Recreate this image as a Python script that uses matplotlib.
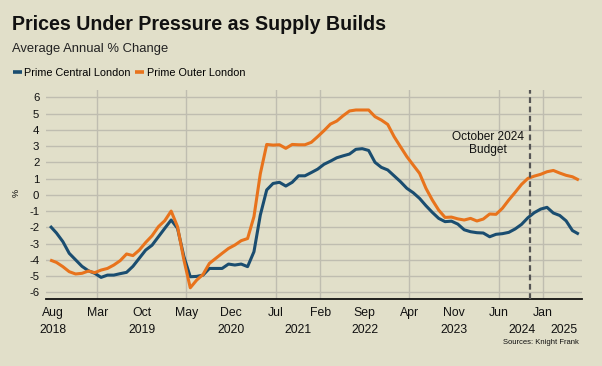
import numpy as np
import pandas as pd
import matplotlib
matplotlib.use("Agg")
import matplotlib.pyplot as plt
from matplotlib.transforms import blended_transform_factory

plt.rcParams['font.family'] = ['Liberation Sans', 'DejaVu Sans']

# data: average annual % change, monthly from Aug 2018
start_month = '2018-08'
pcl = [-1.92, -2.35, -2.88, -3.6, -4.0, -4.4, -4.67, -4.83, -5.08, -4.94,
       -4.94, -4.85, -4.77, -4.4, -3.9, -3.4, -3.1, -2.58, -2.06, -1.55,
       -2.06, -3.8, -5.04, -5.02, -4.94, -4.53, -4.53, -4.53, -4.26, -4.32,
       -4.26, -4.42, -3.5, -1.24, 0.3, 0.7, 0.77, 0.54, 0.77, 1.17,
       1.17, 1.37, 1.58, 1.88, 2.07, 2.28, 2.4, 2.51, 2.8, 2.84,
       2.73, 2.0, 1.69, 1.53, 1.17, 0.81, 0.4, 0.13, -0.22, -0.67,
       -1.08, -1.45, -1.65, -1.62, -1.8, -2.15, -2.27, -2.33, -2.35, -2.58,
       -2.43, -2.39, -2.31, -2.1, -1.82, -1.41, -1.1, -0.88, -0.77, -1.12,
       -1.27, -1.6, -2.2, -2.42]
pol = [-4.01, -4.16, -4.42, -4.73, -4.87, -4.83, -4.69, -4.79, -4.63, -4.53,
       -4.32, -4.05, -3.64, -3.74, -3.4, -2.93, -2.52, -1.96, -1.59, -1.0,
       -1.96, -4.0, -5.72, -5.25, -4.9, -4.22, -3.91, -3.6, -3.3, -3.09,
       -2.82, -2.69, -1.34, 1.3, 3.1, 3.06, 3.08, 2.86, 3.1, 3.08,
       3.08, 3.23, 3.58, 3.95, 4.35, 4.54, 4.87, 5.16, 5.22, 5.22,
       5.22, 4.81, 4.6, 4.33, 3.58, 2.96, 2.35, 1.83, 1.32, 0.4,
       -0.32, -0.94, -1.39, -1.37, -1.48, -1.55, -1.45, -1.61, -1.49, -1.18,
       -1.2, -0.83, -0.32, 0.15, 0.64, 1.01, 1.15, 1.26, 1.42, 1.5,
       1.34, 1.2, 1.11, 0.91]

tick_dates = ['2018-08', '2019-03', '2019-10', '2020-05', '2020-12', '2021-07',
              '2022-02', '2022-09', '2023-04', '2023-11', '2024-06', '2025-01']
tick_labels = ['Aug', 'Mar', 'Oct', 'May', 'Dec', 'Jul', 'Feb', 'Sep', 'Apr', 'Nov', 'Jun', 'Jan']
year_labels = ['2018', '2019', '2020', '2021', '2022', '2023', '2024', '2025']
year_months = [0, 14, 28, 38.5, 49, 63, 73.7, 80.2]
budget_month = 74.9

BG = '#e1dfc9'
BLUE = '#1a4d70'
ORANGE = '#e8731c'
GRID = '#bfbdb0'


def month_offset(s):
    p = pd.Period(s, freq='M')
    return (p - pd.Period(start_month, freq='M')).n


x = np.arange(len(pcl)) - 0.4  # points sit slightly before the month tick
ticks = [month_offset(d) for d in tick_dates]
# vertical gridline at the first tick of every year
grid_ticks = []
seen = set()
for d, t in zip(tick_dates, ticks):
    if d[:4] not in seen and t > 0:
        grid_ticks.append(t)
    seen.add(d[:4])

fig = plt.figure(figsize=(6.02, 3.66), dpi=100, facecolor=BG)
ax = fig.add_axes([46.3 / 602, 1 - 299 / 366, 535.4 / 602, 209 / 366])
ax.set_facecolor(BG)

ax.set_xlim(-1, 83.05)
ax.set_ylim(-6.41, 6.45)
ax.set_yticks(range(-6, 7))
ax.yaxis.grid(True, color=GRID, lw=1.0)
for t in grid_ticks:
    ax.axvline(t, color=GRID, lw=1.0, zorder=0.5)
ax.set_axisbelow(True)

ax.plot(x, pcl, color=BLUE, lw=2.2, label='Prime Central London', solid_capstyle='butt')
ax.plot(x, pol, color=ORANGE, lw=2.2, label='Prime Outer London', solid_capstyle='butt')

ax.axvline(budget_month, color='#555555', lw=1.6, dashes=(2.6, 1.6), zorder=3)
ax.text(68.4, 3.16, 'October 2024\nBudget', ha='center', va='center',
        fontsize=8.6, linespacing=1.1, color='#111111')

for s in ['top', 'right', 'left']:
    ax.spines[s].set_visible(False)
ax.spines['bottom'].set_color('#111111')
ax.spines['bottom'].set_linewidth(1.3)

ax.set_xticks(ticks, tick_labels)
ax.tick_params(axis='x', length=0, pad=5.5, labelsize=8.8, labelcolor='#111111')
ax.tick_params(axis='y', length=0, pad=5, labelsize=8.2, labelcolor='#111111')
ax.set_yticklabels([str(v) for v in range(-6, 7)])

# second row of x labels: years
trans = blended_transform_factory(ax.transData, fig.transFigure)
for m, lab in zip(year_months, year_labels):
    ax.text(m, 1 - 329.6 / 366, lab, transform=trans, ha='center', va='center',
            fontsize=8.8, color='#111111', clip_on=False)

fig.text(16 / 602, 1 - 193 / 366, '%', rotation=90, fontsize=6.5, ha='center', va='center')

fig.text(12.5 / 602, 1 - 25 / 366, 'Prices Under Pressure as Supply Builds',
         fontsize=14.1, weight='bold', va='center', color='#111111')
fig.text(12.3 / 602, 1 - 49.3 / 366, 'Average Annual % Change',
         fontsize=9.4, va='center', color='#222222')

leg = fig.legend(loc='center left', bbox_to_anchor=(12.5 / 602, 1 - 72.7 / 366), ncol=2,
                 frameon=False, fontsize=7.8, handlelength=0.85, handletextpad=0.2,
                 columnspacing=0.45, borderpad=0, borderaxespad=0)
for line in leg.get_lines():
    line.set_linewidth(2.6)

fig.text(579 / 602, 1 - 342.7 / 366, 'Sources: Knight Frank', ha='right', va='center',
         fontsize=5.5, color='#111111')

fig.savefig('out.png', dpi=100, facecolor=BG)
